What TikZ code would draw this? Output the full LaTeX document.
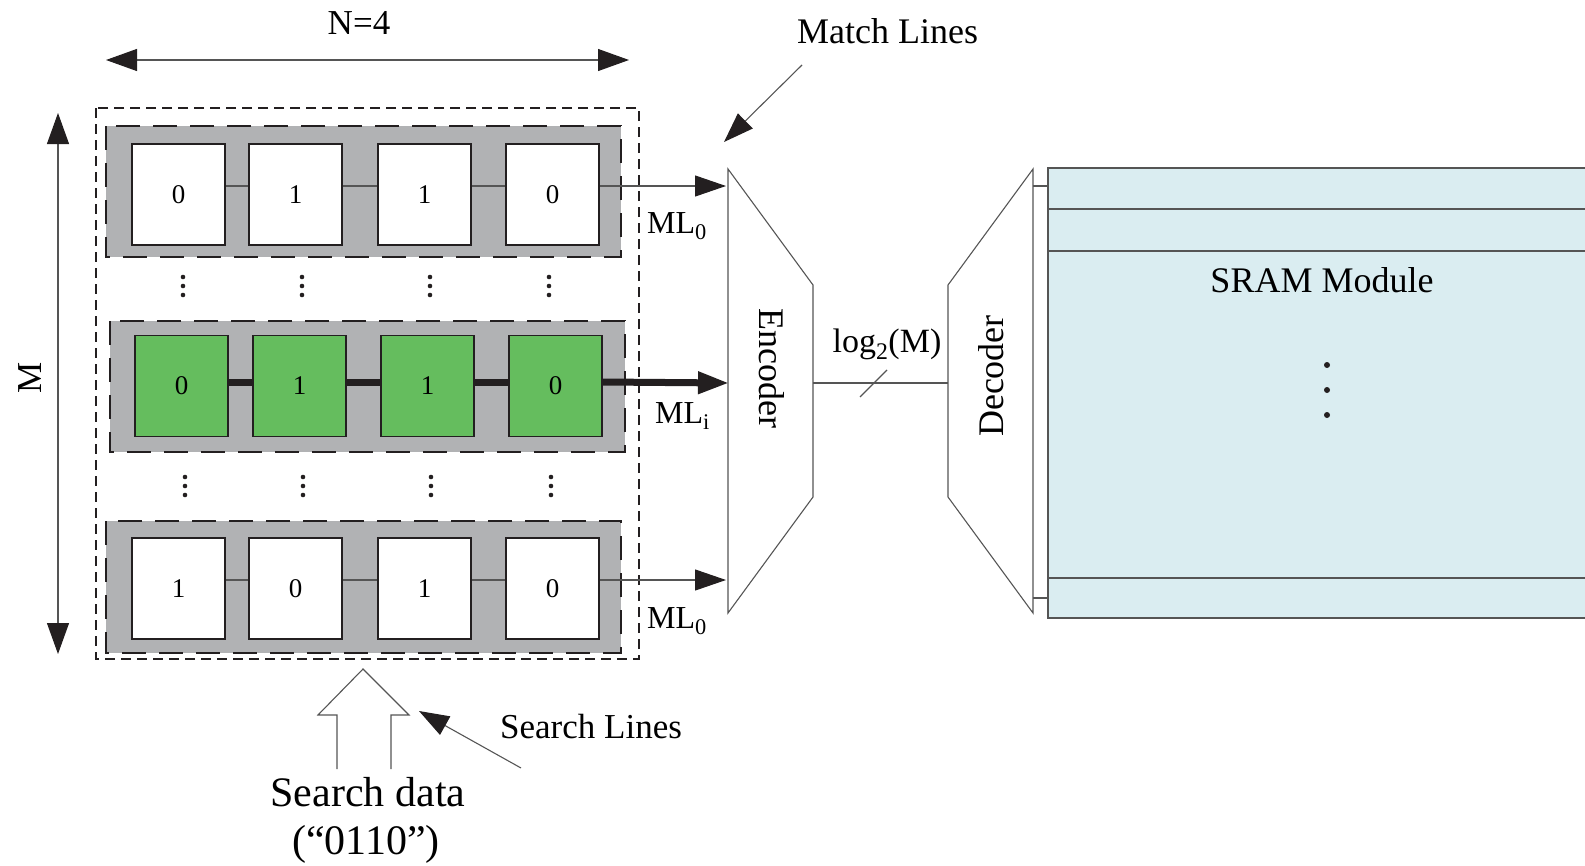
\documentclass[tikz,border=0pt]{standalone}
\usepackage{fontspec}
\setmainfont{Liberation Serif}
\usetikzlibrary{arrows.meta}
\definecolor{camgray}{RGB}{177,178,180}
\definecolor{camgreen}{RGB}{101,189,94}
\definecolor{sramfill}{RGB}{218,237,241}
\definecolor{ink}{RGB}{35,31,32}
\definecolor{thin}{RGB}{85,85,85}
\begin{document}
\begin{tikzpicture}[x=1pt,y=-1pt,
  cell/.style={draw=ink,line width=1.6pt,minimum width=93pt,minimum height=101pt,inner sep=0pt,fill=white,font=\fontsize{27}{30}\selectfont},
  gcell/.style={cell,fill=camgreen},
  rowbox/.style={fill=camgray,draw=ink,line width=1.5pt,dash pattern=on 24pt off 13pt},
  outerbox/.style={draw=ink,line width=1.3pt,dash pattern=on 10pt off 6pt},
  thinline/.style={draw=thin,line width=1.1pt},
  bigtip/.style={-{Triangle[length=31pt,width=21pt,color=ink]}},
  smalltip/.style={-{Triangle[length=30pt,width=21pt,color=ink]}},
  dimarrow/.style={{Triangle[length=31pt,width=22pt,color=ink]}-{Triangle[length=31pt,width=22pt,color=ink]}},
  lbl/.style={inner sep=0pt,font=\fontsize{32}{36}\selectfont},
  dotc/.style={fill=ink}]
\useasboundingbox (0,0) rectangle (1585,865);

% dimension arrows
\coordinate (nl) at (106,60); \coordinate (nr) at (629,60);
\draw[thinline,dimarrow] (nl) -- (nr);
\node[lbl,font=\fontsize{35}{40}\selectfont] (ntext) at (359,23) {N=4};
\coordinate (mt) at (58,113); \coordinate (mb) at (58,654);
\draw[thinline,dimarrow] (mt) -- (mb);
\node[lbl,font=\fontsize{35}{40}\selectfont,rotate=90] (mtext) at (30,378) {M};

% outer dashed box
\draw[outerbox] (96,108) rectangle (639,659);

% row boxes
\draw[rowbox] (106,126) rectangle (621,257);
\draw[rowbox] (110,321) rectangle (625,452);
\draw[rowbox] (106,521) rectangle (621,653);

% row 1
\node[cell] (a1) at (178.5,194.5) {0};
\node[cell] (a2) at (295.5,194.5) {1};
\node[cell] (a3) at (424.5,194.5) {1};
\node[cell] (a4) at (552.5,194.5) {0};
% row i
\node[gcell] (b1) at (181.5,386) {0};
\node[gcell] (b2) at (299.5,386) {1};
\node[gcell] (b3) at (427.5,386) {1};
\node[gcell] (b4) at (555.5,386) {0};
% row M
\node[cell] (c1) at (178.5,588.5) {1};
\node[cell] (c2) at (295.5,588.5) {0};
\node[cell] (c3) at (424.5,588.5) {1};
\node[cell] (c4) at (552.5,588.5) {0};

% encoder
\coordinate (e1) at (728,169); \coordinate (e2) at (813,285);
\coordinate (e3) at (813,497); \coordinate (e4) at (728,613);
\draw[thinline] (e1) -- (e2) -- (e3) -- (e4) -- cycle;
\node[lbl,font=\fontsize{36}{40}\selectfont,rotate=-90] (enc) at (772,368) {Encoder};
\coordinate (ein1) at (726,186);
\coordinate (eini) at (729,383);
\coordinate (einm) at (726,580);
\coordinate (eout) at (813,383);

% match lines
\draw[thinline] ([yshift=8.5pt]a1.east) -- ([yshift=8.5pt]a2.west);
\draw[thinline] ([yshift=8.5pt]a2.east) -- ([yshift=8.5pt]a3.west);
\draw[thinline] ([yshift=8.5pt]a3.east) -- ([yshift=8.5pt]a4.west);
\draw[thinline,bigtip] ([yshift=8.5pt]a4.east) -- (ein1);
\draw[ink,line width=7pt] ([yshift=4pt]b1.east) -- ([yshift=4pt]b2.west);
\draw[ink,line width=7pt] ([yshift=4pt]b2.east) -- ([yshift=4pt]b3.west);
\draw[ink,line width=7pt] ([yshift=4pt]b3.east) -- ([yshift=4pt]b4.west);
\draw[ink,line width=7pt,bigtip] ([yshift=4pt]b4.east) -- (eini);
\draw[thinline] ([yshift=8.5pt]c1.east) -- ([yshift=8.5pt]c2.west);
\draw[thinline] ([yshift=8.5pt]c2.east) -- ([yshift=8.5pt]c3.west);
\draw[thinline] ([yshift=8.5pt]c3.east) -- ([yshift=8.5pt]c4.west);
\draw[thinline,bigtip] ([yshift=8.5pt]c4.east) -- (einm);

\node[lbl,anchor=base west] (ml0) at (647,233) {ML\textsubscript{0}};
\node[lbl,anchor=base west] (mli) at (655,423) {ML\textsubscript{i}};
\node[lbl,anchor=base west] (mlm) at (647,628) {ML\textsubscript{0}};

% vertical dots
\foreach \x in {183,302,430,549} {\foreach \y in {277,286,295} {\fill[dotc] (\x,\y) circle (2.3pt);}}
\foreach \x in {185,303,431,551} {\foreach \y in {477,486,495} {\fill[dotc] (\x,\y) circle (2.3pt);}}

% decoder
\coordinate (d1) at (1033,169); \coordinate (d2) at (948,285);
\coordinate (d3) at (948,497); \coordinate (d4) at (1033,613);
\draw[thinline] (d1) -- (d2) -- (d3) -- (d4) -- cycle;
\node[lbl,font=\fontsize{36}{40}\selectfont,rotate=90] (dec) at (991,376) {Decoder};
\coordinate (din) at (948,383);

% bus
\draw[thinline] (eout) -- (din);
\coordinate (s1) at (860,397); \coordinate (s2) at (887,370);
\draw[thinline] (s1) -- (s2);
\node[lbl,font=\fontsize{34}{38}\selectfont,anchor=base] (logm) at (887,352) {log\textsubscript{2}(M)};

% SRAM
\fill[sramfill] (1048,168) rectangle (1600,618);
\draw[thinline] (1600,168) -- (1048,168) -- (1048,618) -- (1600,618);
\draw[thinline] (1048,209) -- (1600,209);
\draw[thinline] (1048,251) -- (1600,251);
\draw[thinline] (1048,578) -- (1600,578);
\coordinate (st1) at (1048,186); \coordinate (st2) at (1048,598);
\coordinate (dt1) at (1033,186); \coordinate (dt2) at (1033,598);
\draw[thinline] (dt1) -- (st1);
\draw[thinline] (dt2) -- (st2);
\node[lbl,font=\fontsize{36}{40}\selectfont,anchor=base] (sram) at (1322,292) {SRAM Module};
\foreach \y in {365,390,415} {\fill[dotc] (1327,\y) circle (3pt);}

% Match Lines label
\node[lbl,font=\fontsize{36}{40}\selectfont,anchor=base west] (mltext) at (797,43) {Match Lines};
\coordinate (mla) at (802,65); \coordinate (mlb) at (724,142);
\draw[thinline,smalltip] (mla) -- (mlb);

% Search lines label
\node[lbl,font=\fontsize{35}{40}\selectfont,anchor=base west] (sltext) at (500,738) {Search Lines};
\coordinate (sla) at (521,768); \coordinate (slb) at (419,711);
\draw[thinline,smalltip] (sla) -- (slb);

% hollow search arrow
\draw[thinline] (337,769) -- (337,715) -- (318,715) -- (363,669) -- (409,715) -- (391,715) -- (391,769);
\node[lbl,font=\fontsize{42}{50}\selectfont,anchor=base] (sd1) at (368,806) {Search data};
\node[lbl,font=\fontsize{42}{50}\selectfont,anchor=base] (sd2) at (366,854) {(``0110'')};
\end{tikzpicture}
\end{document}
